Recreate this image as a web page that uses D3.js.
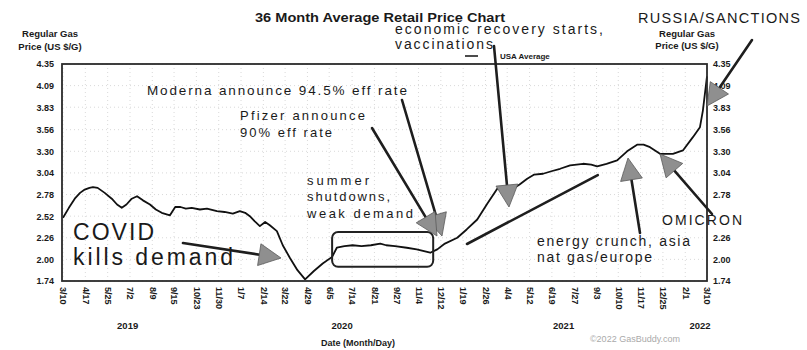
<!DOCTYPE html>
<html>
<head>
<meta charset="utf-8">
<script src="https://cdn.jsdelivr.net/npm/d3@7"></script>
<style>
  body { margin: 0; background: #fff; }
  svg { display: block; }
  text { font-family: "Liberation Sans", Arial, sans-serif; fill: #1a1a1a; }
</style>
</head>
<body>
<svg id="chart" width="807" height="350"></svg>
<script>
// Weekly-ish USA average regular gas price, $/gal
const priceDates = [
  "2019-03-10","2019-03-20","2019-03-30","2019-04-08","2019-04-16","2019-04-24","2019-04-30",
  "2019-05-08","2019-05-20","2019-06-01","2019-06-10","2019-06-18","2019-06-26","2019-07-05",
  "2019-07-14","2019-07-24","2019-08-05","2019-08-15","2019-08-25","2019-09-08","2019-09-17",
  "2019-09-26","2019-10-05","2019-10-15","2019-10-29","2019-11-10","2019-11-27","2019-12-10",
  "2019-12-24","2020-01-05","2020-01-14","2020-01-22","2020-01-30","2020-02-08","2020-02-17",
  "2020-02-25","2020-03-08","2020-03-18","2020-03-30","2020-04-12","2020-04-25","2020-05-10",
  "2020-05-25","2020-06-10","2020-06-18","2020-07-01","2020-07-15","2020-07-30","2020-08-15",
  "2020-08-31","2020-09-10","2020-09-25","2020-10-15","2020-11-01","2020-11-24","2020-12-06",
  "2020-12-19","2021-01-09","2021-01-25","2021-02-12","2021-03-01","2021-03-18","2021-03-30",
  "2021-04-14","2021-04-25","2021-05-08","2021-05-20","2021-06-04","2021-06-18","2021-07-03",
  "2021-07-20","2021-08-11","2021-08-25","2021-09-04","2021-09-20","2021-10-08","2021-10-25",
  "2021-11-11","2021-11-22","2021-12-03","2021-12-20","2022-01-11","2022-01-28","2022-02-14",
  "2022-02-26","2022-03-03","2022-03-10"
];
const priceValues = [
  2.50, 2.62, 2.73, 2.80, 2.84, 2.86, 2.87,
  2.86, 2.80, 2.73, 2.66, 2.62, 2.66, 2.73,
  2.76, 2.71, 2.66, 2.60, 2.56, 2.53, 2.63,
  2.63, 2.61, 2.62, 2.60, 2.61, 2.58, 2.57,
  2.55, 2.58, 2.56, 2.52, 2.46, 2.40, 2.45,
  2.41, 2.34, 2.17, 2.02, 1.87, 1.76, 1.86,
  1.95, 2.03, 2.14, 2.16, 2.17, 2.16, 2.17,
  2.19, 2.17, 2.16, 2.14, 2.12, 2.08, 2.12,
  2.19, 2.26, 2.36, 2.48, 2.67, 2.85, 2.86,
  2.85, 2.90, 2.97, 3.02, 3.03, 3.06, 3.09,
  3.13, 3.15, 3.14, 3.12, 3.15, 3.19, 3.30,
  3.38, 3.38, 3.35, 3.27, 3.27, 3.31, 3.47,
  3.59, 3.79, 4.20
];

// Axis ticks
const tickDates = [
  "2019-03-10","2019-04-17","2019-05-25","2019-07-02","2019-08-09","2019-09-15","2019-10-23",
  "2019-11-30","2020-01-07","2020-02-14","2020-03-22","2020-04-29","2020-06-05","2020-07-14",
  "2020-08-21","2020-09-27","2020-11-04","2020-12-12","2021-01-19","2021-02-26","2021-04-04",
  "2021-05-12","2021-06-19","2021-07-27","2021-09-03","2021-10-10","2021-11-17","2021-12-25",
  "2022-02-01","2022-03-10"
];
const yTickValues = [1.74, 2.00, 2.26, 2.52, 2.78, 3.04, 3.30, 3.56, 3.83, 4.09, 4.35];
// the right-hand 2.52 label sits under the OMICRON callout
const yTickValuesRight = [1.74, 2.00, 2.26, 2.78, 3.04, 3.30, 3.56, 3.83, 4.09, 4.35];
const yearLabels = ["2019", "2020", "2021", "2022"];
const yearCentres = ["2019-06-28", "2020-06-27", "2021-07-09", "2022-02-26"];

// Callout texts
const covidLines = ["COVID", "kills demand"];
const modernaLines = ["Moderna announce 94.5% eff rate"];
const pfizerLines = ["Pfizer announce", "90% eff rate"];
const summerLines = ["summer", "shutdowns,", "weak demand"];
const recoveryLines = ["economic recovery starts,", "vaccinations"];
const energyLines = ["energy crunch, asia", "nat gas/europe"];
const omicronLines = ["OMICRON"];
const russiaLines = ["RUSSIA/SANCTIONS"];

const parse = d3.timeParse("%Y-%m-%d");
const series = priceDates.map((d, i) => ({ date: parse(d), value: priceValues[i] }));

const svg = d3.select("#chart");
const plot = { left: 62, right: 707, top: 64, bottom: 281 };

const x = d3.scaleTime()
  .domain([parse("2019-03-10"), parse("2022-03-10")])
  .range([plot.left + 1, plot.right]);
const y = d3.scaleLinear()
  .domain([1.74, 4.35])
  .range([plot.bottom, plot.top]);

// Faint dotted grid
const grid = svg.append("g").attr("stroke", "#cfcfcf").attr("stroke-width", 0.8)
  .attr("stroke-dasharray", "1,3");
grid.selectAll(".h").data(yTickValues).join("line")
  .attr("x1", plot.left).attr("x2", plot.right)
  .attr("y1", d => y(d)).attr("y2", d => y(d));
grid.selectAll(".v").data(tickDates).join("line")
  .attr("x1", d => x(parse(d))).attr("x2", d => x(parse(d)))
  .attr("y1", plot.top).attr("y2", plot.bottom);

// Price line
svg.append("path")
  .datum(series)
  .attr("fill", "none")
  .attr("stroke", "#111")
  .attr("stroke-width", 1.8)
  .attr("stroke-linejoin", "round")
  .attr("d", d3.line().x(d => x(d.date)).y(d => y(d.value)));

// Frame
svg.append("rect")
  .attr("x", plot.left).attr("y", plot.top)
  .attr("width", plot.right - plot.left).attr("height", plot.bottom - plot.top)
  .attr("fill", "none").attr("stroke", "#2b2b2b").attr("stroke-width", 1.8);

// Axes
const fmt = d3.format(".2f");
const styleAxis = g => {
  g.select(".domain").remove();
  g.selectAll(".tick line").remove();
  g.selectAll("text").style("font-size", "9px").style("font-weight", "bold").attr("fill", "#222");
};
svg.append("g").attr("transform", `translate(${plot.left},0)`)
  .call(d3.axisLeft(y).tickValues(yTickValues).tickFormat(fmt).tickSize(0).tickPadding(8))
  .call(styleAxis);
svg.append("g").attr("transform", `translate(${plot.right},0)`)
  .call(d3.axisRight(y).tickValues(yTickValuesRight).tickFormat(fmt).tickSize(0).tickPadding(6))
  .call(styleAxis);
svg.append("g").attr("transform", `translate(0,${plot.bottom})`)
  .call(d3.axisBottom(x).tickValues(tickDates.map(parse)).tickFormat(d3.timeFormat("%-m/%-d")).tickSize(0))
  .call(styleAxis)
  .call(g => g.selectAll("text")
    .attr("y", 0).attr("x", 6).attr("dy", "0.35em")
    .attr("transform", "rotate(90)")
    .style("text-anchor", "start"));

// Year labels under the dates
svg.append("g").selectAll("text").data(yearLabels).join("text")
  .attr("x", (d, i) => x(parse(yearCentres[i])))
  .attr("y", 329)
  .attr("text-anchor", "middle")
  .style("font-size", "9.5px").style("font-weight", "bold")
  .text(d => d);

// Titles
svg.append("text").attr("x", 380).attr("y", 22).attr("text-anchor", "middle")
  .attr("textLength", 250).attr("lengthAdjust", "spacingAndGlyphs")
  .style("font-size", "13px").style("font-weight", "bold")
  .text("36 Month Average Retail Price Chart");

const axisTitle = (cx, y0, y1) => {
  svg.append("text").attr("x", cx).attr("y", y0).attr("text-anchor", "middle")
    .style("font-size", "9.5px").style("font-weight", "bold").text("Regular Gas");
  svg.append("text").attr("x", cx).attr("y", y1).attr("text-anchor", "middle")
    .style("font-size", "9.5px").style("font-weight", "bold").text("Price (US $/G)");
};
axisTitle(50, 37, 50);
axisTitle(687, 37, 49);

svg.append("text").attr("x", 358).attr("y", 346).attr("text-anchor", "middle")
  .style("font-size", "9px").style("font-weight", "bold").text("Date (Month/Day)");
svg.append("text").attr("x", 635).attr("y", 342).attr("text-anchor", "middle")
  .style("font-size", "9px").style("fill", "#aaa").text("\u00A92022 GasBuddy.com");

// Legend
svg.append("line").attr("x1", 465).attr("x2", 478).attr("y1", 56).attr("y2", 56)
  .attr("stroke", "#111").attr("stroke-width", 1.5);
svg.append("text").attr("x", 500).attr("y", 59)
  .style("font-size", "8px").style("font-weight", "bold").text("USA Average");

// Callout text blocks
const block = (lines, x0, baselines, size, widths) => {
  lines.forEach((t, i) => {
    svg.append("text")
      .attr("x", x0).attr("y", baselines[i])
      .attr("textLength", widths[i]).attr("lengthAdjust", "spacing")
      .style("font-size", size + "px")
      .text(t);
  });
};
block(recoveryLines, 395, [34, 49], 14, [208, 98]);
block(modernaLines, 147, [95], 13.5, [260]);
block(pfizerLines, 240, [120, 137], 13, [125, 92]);
block(summerLines, 307, [185, 201, 218], 13, [62, 83, 106]);
block(covidLines, 73, [240, 265], 23, [81, 160]);
block(energyLines, 537, [246, 262], 14, [153, 115]);
block(omicronLines, 662, [225], 14, [80]);
block(russiaLines, 638, [23], 14.5, [162]);

// Box around the summer plateau
svg.append("rect")
  .attr("x", x(parse("2020-06-10"))).attr("y", y(2.33))
  .attr("width", x(parse("2020-11-29")) - x(parse("2020-06-10")))
  .attr("height", y(1.91) - y(2.33))
  .attr("rx", 6)
  .attr("fill", "none").attr("stroke", "#222").attr("stroke-width", 2);

// Arrows: straight shaft with a grey triangular head
const arrow = (tail, tip, head = true, hl = 22, hw = 11) => {
  const dx = tip[0] - tail[0], dy = tip[1] - tail[1];
  const L = Math.hypot(dx, dy), ux = dx / L, uy = dy / L;
  const base = head ? [tip[0] - ux * hl, tip[1] - uy * hl] : tip;
  svg.append("line")
    .attr("x1", tail[0]).attr("y1", tail[1]).attr("x2", base[0] + ux * 2).attr("y2", base[1] + uy * 2)
    .attr("stroke", "#1e1e1e").attr("stroke-width", 2.6).attr("stroke-linecap", "round");
  if (head) {
    const px = -uy, py = ux;
    svg.append("path")
      .attr("d", `M${tip[0]},${tip[1]}L${base[0] + px * hw},${base[1] + py * hw}L${base[0] - px * hw},${base[1] - py * hw}Z`)
      .attr("fill", "#8f8f8f").attr("stroke", "#5a5a5a").attr("stroke-width", 0.8)
      .attr("stroke-linejoin", "round");
  }
};
arrow([183, 243], [281, 258]);
arrow([402, 100], [442, 236]);
arrow([372, 128], [437, 236]);
arrow([494, 46], [509, 207]);
arrow([467, 244], [596, 176], false);
arrow([640, 233], [628, 158]);
arrow([712, 214], [660, 154]);
arrow([752, 40], [707, 106]);
</script>
</body>
</html>
